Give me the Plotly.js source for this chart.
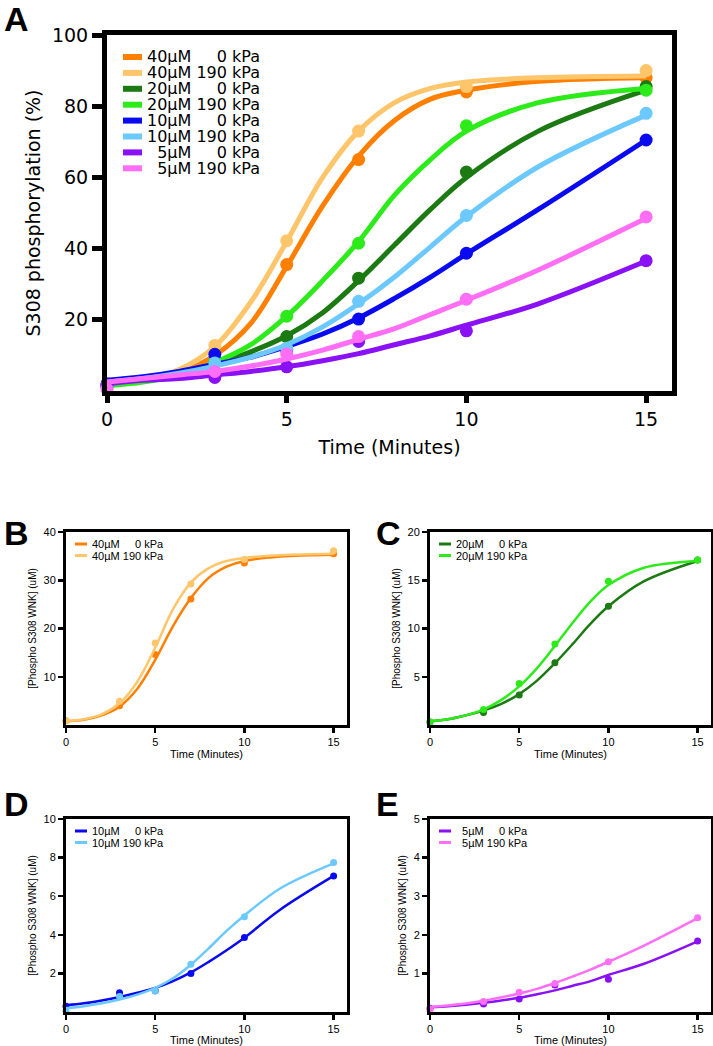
<!DOCTYPE html>
<html>
<head>
<meta charset="utf-8">
<script src="https://cdn.plot.ly/plotly-3.0.1.min.js"></script>
<style>
  html, body { margin: 0; padding: 0; background: #fff; }
  #chart { width: 713px; height: 1046px; }
</style>
</head>
<body>
<div id="chart"></div>
<script>
// sampling times of the measured points and of the fitted curves (minutes)
var time = [0, 3, 5, 7, 10, 15];
var fitTime = [0, 1, 2, 3, 4, 5, 6, 7, 8, 9, 10, 12, 15];

// panel A - S308 phosphorylation (%), measured points
var pct40_0 = [1.5, 11, 35.5, 65, 84, 88];
var pct40_190 = [2, 12.8, 42.2, 73, 85.5, 90];
var pct20_0 = [1.5, 8, 15.3, 31.7, 61.5, 85.5];
var pct20_190 = [1, 8.5, 21, 41.5, 74.5, 84.5];
var pct10_0 = [2, 10.3, 11.5, 20.2, 38.7, 70.5];
var pct10_190 = [1.5, 7.9, 12, 25.2, 49.3, 78];
var pct5_0 = [1.5, 3.8, 6.8, 13.9, 16.9, 36.6];
var pct5_190 = [0.5, 5.5, 10.4, 15.3, 25.8, 48.9];

// panel A - fitted curves read at fitTime
var fitPct40_0 = [2, 3, 5, 10, 19, 35, 52, 66, 76, 82, 84.5, 87, 88];
var fitPct40_190 = [2, 3, 6, 12.5, 25, 42, 60, 73, 81, 85, 86.8, 88, 88.5];
var fitPct20_0 = [2, 3, 4.5, 7.5, 11, 15.5, 22, 31, 41, 51, 60, 73, 84.5];
var fitPct20_190 = [1.5, 2.5, 4.5, 8, 13, 21, 31, 42, 55, 65, 73, 81, 85];
var fitPct10_0 = [3, 4, 5.5, 7.5, 9.5, 12.5, 16, 20.5, 26, 32, 38.5, 51, 70.5];
var fitPct10_190 = [2.5, 3.5, 5, 7, 9.5, 13, 18, 24.5, 32, 40.5, 49, 63, 77.5];
var fitPct5_0 = [2, 3, 3.5, 4.5, 5.5, 6.8, 8.5, 10.5, 13, 15.5, 18.5, 24.5, 36.5];
var fitPct5_190 = [2.5, 3.5, 4.5, 5.5, 7, 9, 11.5, 14.5, 17.5, 21.5, 25.5, 34, 48.5];

// panels B-E - [Phospho S308 WNK] (uM), measured points
var um40_0 = [0.9, 4.0, 14.6, 26.1, 33.6, 35.5];
var um40_190 = [0.9, 4.9, 17.0, 29.2, 34.3, 36.1];
var um20_0 = [0.3, 1.3, 3.1, 6.45, 12.3, 17.1];
var um20_190 = [0.3, 1.6, 4.3, 8.4, 14.9, 17.1];
var um10_0 = [0.3, 1.0, 1.1, 2.0, 3.86, 7.05];
var um10_190 = [0.05, 0.8, 1.09, 2.48, 4.93, 7.75];
var um5_0 = [0.1, 0.21, 0.34, 0.70, 0.85, 1.84];
var um5_190 = [0.05, 0.27, 0.51, 0.74, 1.3, 2.44];

// panels B-E - fitted curves read at fitTime
var fitUm40_0 = [0.8, 1.1, 2, 3.8, 7.5, 13.5, 20.5, 26.3, 30.5, 32.8, 34, 34.9, 35.3];
var fitUm40_190 = [0.8, 1.2, 2.2, 4.5, 9, 16, 24, 29.5, 32.5, 34, 34.6, 35.2, 35.5];
var fitUm20_0 = [0.4, 0.6, 1.0, 1.5, 2.2, 3.2, 4.6, 6.4, 8.4, 10.5, 12.3, 14.9, 17.0];
var fitUm20_190 = [0.4, 0.6, 1.0, 1.6, 2.6, 4.0, 5.9, 8.2, 10.6, 12.8, 14.5, 16.3, 17.0];
var fitUm10_0 = [0.35, 0.45, 0.6, 0.78, 1.0, 1.25, 1.6, 2.05, 2.6, 3.2, 3.85, 5.3, 7.05];
var fitUm10_190 = [0.2, 0.3, 0.45, 0.65, 0.9, 1.25, 1.75, 2.45, 3.3, 4.2, 5.0, 6.4, 7.7];
var fitUm5_0 = [0.12, 0.15, 0.19, 0.24, 0.3, 0.37, 0.46, 0.56, 0.68, 0.8, 0.96, 1.25, 1.83];
var fitUm5_190 = [0.13, 0.17, 0.22, 0.29, 0.38, 0.48, 0.6, 0.75, 0.92, 1.1, 1.3, 1.72, 2.43];

var F = "\u2007"; // figure space, keeps the kPa column aligned
var names = {
  c40_0: "40µM " + F + F + "0 kPa", c40_190: "40µM 190 kPa",
  c20_0: "20µM " + F + F + "0 kPa", c20_190: "20µM 190 kPa",
  c10_0: "10µM " + F + F + "0 kPa", c10_190: "10µM 190 kPa",
  c5_0: F + "5µM " + F + F + "0 kPa", c5_190: F + "5µM 190 kPa"
};
var colors = {
  c40_0: "#ff7f00", c40_190: "#ffc56a",
  c20_0: "#1c7a12", c20_190: "#2deb1a",
  c10_0: "#0a0af0", c10_190: "#6cc9ff",
  c5_0: "#8a10f5", c5_190: "#ff6ef5"
};

var FONT = "Liberation Sans, Arial, Helvetica, sans-serif";
var WIDE = "DejaVu Sans, Liberation Sans, sans-serif";
var data = [];

// one fitted curve plus its measured points
function addSeries(key, fitY, ptY, ax, lw, ms) {
  data.push({
    x: fitTime, y: fitY, xaxis: "x" + ax, yaxis: "y" + ax,
    type: "scatter", mode: "lines", name: names[key], showlegend: false,
    line: { color: colors[key], width: lw, shape: "spline", smoothing: 1 },
    hoverinfo: "skip"
  });
  data.push({
    x: time, y: ptY, xaxis: "x" + ax, yaxis: "y" + ax,
    type: "scatter", mode: "markers", name: names[key], showlegend: false,
    marker: { color: colors[key], size: ms }, cliponaxis: false
  });
}

addSeries("c40_0", fitPct40_0, pct40_0, "", 5, 13);
addSeries("c40_190", fitPct40_190, pct40_190, "", 5, 13);
addSeries("c20_0", fitPct20_0, pct20_0, "", 5, 13);
addSeries("c20_190", fitPct20_190, pct20_190, "", 5, 13);
addSeries("c10_0", fitPct10_0, pct10_0, "", 5, 13);
addSeries("c10_190", fitPct10_190, pct10_190, "", 5, 13);
addSeries("c5_0", fitPct5_0, pct5_0, "", 5, 13);
addSeries("c5_190", fitPct5_190, pct5_190, "", 5, 13);

addSeries("c40_0", fitUm40_0, um40_0, "2", 2.5, 7);
addSeries("c40_190", fitUm40_190, um40_190, "2", 2.5, 7);
addSeries("c20_0", fitUm20_0, um20_0, "3", 2.5, 7);
addSeries("c20_190", fitUm20_190, um20_190, "3", 2.5, 7);
addSeries("c10_0", fitUm10_0, um10_0, "4", 2.5, 7);
addSeries("c10_190", fitUm10_190, um10_190, "4", 2.5, 7);
addSeries("c5_0", fitUm5_0, um5_0, "5", 2.5, 7);
addSeries("c5_190", fitUm5_190, um5_190, "5", 2.5, 7);

// pixel helpers for domains
function px(a, b) { return [a / 713, b / 713]; }
function py(top, bottom) { return [1 - bottom / 1046, 1 - top / 1046]; }

function xAx(dom, anchor, big, top) {
  return {
    domain: dom, anchor: anchor, range: [0, top],
    tickvals: [0, 5, 10, 15], showgrid: false, zeroline: false,
    showline: true, mirror: true, linecolor: "#000",
    linewidth: big ? 5 : 3, ticks: "outside",
    ticklen: big ? 7 : 5, tickwidth: big ? 5 : 2.5, tickcolor: "#000",
    tickfont: { family: big ? WIDE : FONT, size: big ? 19 : 11, color: "#000" },
    title: {
      text: "Time (Minutes)", standoff: big ? 13 : 3,
      font: { family: big ? WIDE : FONT, size: big ? 19 : 11, color: "#000" }
    }
  };
}
function yAx(dom, anchor, top, ticks, big, title) {
  return {
    domain: dom, anchor: anchor, range: [0, top],
    tickvals: ticks, showgrid: false, zeroline: false,
    showline: true, mirror: true, linecolor: "#000",
    linewidth: big ? 5 : 3, ticks: "outside",
    ticklen: big ? 10 : 5, tickwidth: big ? 5 : 2.5, tickcolor: "#000",
    tickfont: { family: big ? WIDE : FONT, size: big ? 19 : 11, color: "#000" },
    title: {
      text: title, standoff: big ? 8 : 6,
      font: { family: big ? WIDE : FONT, size: big ? 19 : 10, color: "#000" }
    }
  };
}

var shapes = [];
var annotations = [];

// key boxes in the top-left corner of each panel: short coloured bar + label
function addKey(keys, x0, y0, step, barLen, barW, fontFam, fontSize) {
  keys.forEach(function (k, i) {
    var yy = 1 - (y0 + i * step) / 1046;
    shapes.push({
      type: "line", xref: "paper", yref: "paper",
      x0: x0 / 713, x1: (x0 + barLen) / 713, y0: yy, y1: yy,
      line: { color: colors[k], width: barW }
    });
    annotations.push({
      text: names[k], xref: "paper", yref: "paper",
      x: (x0 + barLen + 4) / 713, y: yy, xanchor: "left", yanchor: "middle",
      showarrow: false, borderpad: 0,
      font: { family: fontFam, size: fontSize, color: "#000" }
    });
  });
}
addKey(["c40_0", "c40_190", "c20_0", "c20_190", "c10_0", "c10_190", "c5_0", "c5_190"],
  123, 57, 15.9, 19, 6, WIDE, 16);
addKey(["c40_0", "c40_190"], 75, 544, 11.5, 12, 3, FONT, 11);
addKey(["c20_0", "c20_190"], 439, 544, 11.5, 12, 3, FONT, 11);
addKey(["c10_0", "c10_190"], 75, 831, 11.5, 12, 3, FONT, 11);
addKey(["c5_0", "c5_190"], 439, 831, 11.5, 12, 3, FONT, 11);

var letters = [["A", 2, 19], ["B", 2, 533], ["C", 374, 533], ["D", 2, 804], ["E", 374, 804]];
letters.forEach(function (l) {
  annotations.push({
    text: "<b>" + l[0] + "</b>", xref: "paper", yref: "paper",
    x: l[1] / 713, y: 1 - l[2] / 1046, xanchor: "left", yanchor: "middle",
    showarrow: false, font: { family: FONT, size: 34, color: "#000" }
  });
});

var layout = {
  width: 713, height: 1046,
  margin: { l: 0, r: 0, t: 0, b: 0 },
  paper_bgcolor: "#fff", plot_bgcolor: "rgba(0,0,0,0)",
  showlegend: false,
  font: { family: FONT, color: "#000" },
  xaxis: xAx(px(107, 672), "y", true, 15.72),
  yaxis: yAx(py(35, 391), "x", 100, [20, 40, 60, 80, 100], true, "S308 phosphorylation (%)"),
  xaxis2: xAx(px(66, 347), "y2", false, 15.75),
  yaxis2: yAx(py(532, 725), "x2", 40, [10, 20, 30, 40], false, "[Phospho S308 WNK] (uM)"),
  xaxis3: xAx(px(430, 711), "y3", false, 15.75),
  yaxis3: yAx(py(532, 725), "x3", 20, [5, 10, 15, 20], false, "[Phospho S308 WNK] (uM)"),
  xaxis4: xAx(px(66, 347), "y4", false, 15.75),
  yaxis4: yAx(py(819, 1012), "x4", 10, [2, 4, 6, 8, 10], false, "[Phospho S308 WNK] (uM)"),
  xaxis5: xAx(px(430, 711), "y5", false, 15.75),
  yaxis5: yAx(py(819, 1012), "x5", 5, [1, 2, 3, 4, 5], false, "[Phospho S308 WNK] (uM)"),
  shapes: shapes,
  annotations: annotations
};

Plotly.newPlot("chart", data, layout, { displayModeBar: false, staticPlot: true });
</script>
</body>
</html>
